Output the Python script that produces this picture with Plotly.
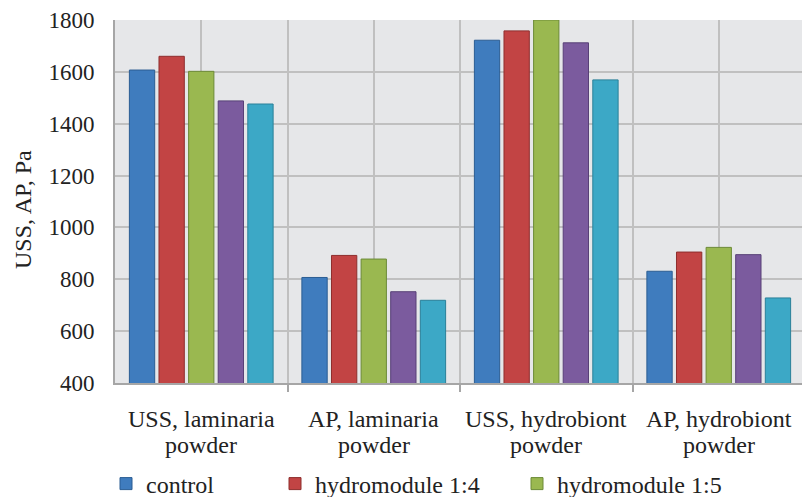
import plotly.graph_objects as go

categories = ["USS, laminaria<br>powder", "AP, laminaria<br>powder",
              "USS, hydrobiont<br>powder", "AP, hydrobiont<br>powder"]
series_names = ["control", "hydromodule 1:4", "hydromodule 1:5",
                "hydromodule 1:6", "hydromodule 1:7"]
control = [1607, 807, 1722, 831]
hm_1_4 = [1660, 892, 1758, 905]
hm_1_5 = [1602, 878, 1800, 923]
hm_1_6 = [1488, 752, 1712, 895]
hm_1_7 = [1476, 719, 1569, 728]
series_values = [control, hm_1_4, hm_1_5, hm_1_6, hm_1_7]
y_ticks = [400, 600, 800, 1000, 1200, 1400, 1600, 1800]

fills = ["#3F7CBE", "#C24444", "#9AB850", "#7B5B9E", "#3CA8C6"]
borders = ["#2B5D93", "#8E2E2D", "#6C8A37", "#584077", "#2A8099"]
legend_ids = ["legend", "legend2", "legend3", None, None]

xpos = list(range(len(categories)))
fig = go.Figure()
for name, vals, fc, bc, lg in zip(series_names, series_values, fills, borders, legend_ids):
    kw = dict(legend=lg) if lg else dict(showlegend=False)
    fig.add_trace(go.Bar(x=xpos, y=vals, name=name,
                         marker=dict(color=fc, line=dict(color=bc, width=1)),
                         **kw))

FONT = "Liberation Serif"
TXT = "#222222"
W, H = 802, 497
ml, mt, mb, mr = 115, 20, 114, 0
pw = W - ml - mr
ph = H - mt - mb

def px_to_paper_x(px):
    return (px - ml) / pw

def px_to_paper_y(py):
    return (H - mb - py) / ph

leg_common = dict(orientation="h", yanchor="middle", xanchor="left",
                  font=dict(family=FONT, size=24, color=TXT),
                  bgcolor="rgba(0,0,0,0)", itemwidth=30)

annotations = [dict(
    text="USS, AP, Pa", textangle=-90, showarrow=False,
    xref="paper", yref="paper",
    x=px_to_paper_x(23), y=px_to_paper_y(210),
    xanchor="center", yanchor="middle",
    font=dict(family=FONT, size=24, color=TXT),
)]
for xi, cat in zip(xpos, categories):
    lines = cat.split("<br>")
    for li, line in enumerate(lines):
        annotations.append(dict(
            text=line, showarrow=False, xref="x", yref="paper",
            x=xi, y=px_to_paper_y(419 + 26 * li),
            xanchor="center", yanchor="middle",
            font=dict(family=FONT, size=24, color=TXT),
        ))

fig.update_layout(
    width=W, height=H,
    margin=dict(l=ml, r=mr, t=mt, b=mb, autoexpand=False),
    paper_bgcolor="white",
    plot_bgcolor="#E6E7E9",
    barmode="group",
    bargap=0.142,
    bargroupgap=0.145,
    font=dict(family=FONT, size=24, color=TXT),
    legend=dict(x=px_to_paper_x(106), y=px_to_paper_y(484), **leg_common),
    legend2=dict(x=px_to_paper_x(275), y=px_to_paper_y(484), **leg_common),
    legend3=dict(x=px_to_paper_x(517), y=px_to_paper_y(484), **leg_common),
    xaxis=dict(
        range=[-0.5, -0.5 + pw / 172.5],
        tickmode="array", tickvals=xpos, ticktext=categories,
        showticklabels=False,
        showgrid=True, gridcolor="#C0C0C0", gridwidth=2,
        ticks="",
        showline=True, linecolor="#A6A6A6", linewidth=2,
        zeroline=False,
        minor=dict(tickmode="array", tickvals=[0.5, 1.5, 2.5],
                   showgrid=True, gridcolor="#C0C0C0", gridwidth=2,
                   ticks="outside", ticklen=7, tickcolor="#A6A6A6", tickwidth=2),
    ),
    yaxis=dict(
        range=[400, 1800],
        tickmode="array", tickvals=y_ticks,
        showgrid=True, gridcolor="#C0C0C0", gridwidth=2,
        showline=True, linecolor="#A6A6A6", linewidth=2,
        zeroline=False,
        ticks="outside", ticklen=14, tickcolor="rgba(0,0,0,0)",
        tickfont=dict(family=FONT, size=23, color=TXT),
    ),
    annotations=annotations,
)

fig.write_html("out.html")
